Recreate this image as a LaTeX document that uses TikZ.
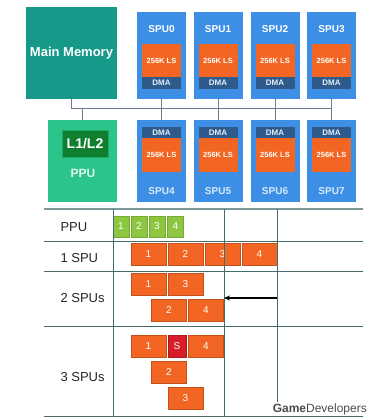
\documentclass[tikz,border=0pt]{standalone}
\usepackage{fontspec}
\setmainfont{Liberation Sans}
\usepackage{tikz}
\usetikzlibrary{arrows.meta}
\definecolor{memteal}{HTML}{17998A}
\definecolor{spublue}{HTML}{3D8FE6}
\definecolor{dmablue}{HTML}{2F5B8C}
\definecolor{lsorange}{HTML}{F26522}
\definecolor{ppugreen}{HTML}{2BC48A}
\definecolor{cachegreen}{HTML}{0E7F2E}
\definecolor{lime}{HTML}{8DC63F}
\definecolor{stallred}{HTML}{D71E28}
\definecolor{gridline}{HTML}{456B6B}
\definecolor{busline}{HTML}{6C7C8C}
\tikzset{box/.style = {inner sep=0pt, text=white}}
\tikzset{spu/.style = {box, fill=spublue, minimum width=49}}
\tikzset{spulabel/.style = {text=white, font=\bfseries\fontsize{10}{12}\selectfont}}
\tikzset{ls/.style = {box, fill=lsorange, minimum width=39, font=\bfseries\fontsize{7.5}{9}\selectfont}}
\tikzset{dma/.style = {box, fill=dmablue, minimum width=39, text=white!85!spublue, font=\bfseries\fontsize{8}{9}\selectfont}}
\tikzset{task/.style = {box, fill=lsorange, draw=lsorange!80!black, line width=0.5pt, minimum width=35, minimum height=22, font=\fontsize{10}{12}\selectfont}}
\tikzset{rowlabel/.style = {anchor=west, font=\fontsize{13}{15}\selectfont, text=black!85}}
\tikzset{bus/.style = {draw=busline, line width=0.8pt}}
\tikzset{grid/.style = {draw=gridline, line width=1pt}}

\begin{document}
\begin{tikzpicture}[x=1pt,y=-1pt]
\useasboundingbox (0,0) rectangle (369,420);
% chip layout
\node[box, fill=memteal, minimum width=91, minimum height=92, font=\bfseries\fontsize{13}{15}\selectfont] (mem) at (71.5,53) {Main Memory};
\foreach \i/\x in {0/161.5,1/218,2/275,3/331.5} {
  \node[spu, minimum height=87] (spu\i) at (\x,55.5) {};
  \node[spulabel] (lab\i) at (\x,29) {SPU\i};
  \node[ls, minimum height=33] (ls\i) at (\x,60.5) {256K LS};
  \node[dma, minimum height=12] (dma\i) at (\x,83) {DMA};
}
\foreach \i/\x in {4/161.5,5/218,6/275,7/331.5} {
  \node[spu, minimum height=82] (spu\i) at (\x,161) {};
  \node[dma, minimum height=11] (dma\i) at (\x,132.5) {DMA};
  \node[ls, minimum height=34] (ls\i) at (\x,155) {256K LS};
  \node[spulabel, text=white!80!spublue] (lab\i) at (\x,191) {SPU\i};
}
\node[box, fill=ppugreen, minimum width=69, minimum height=82] (ppu) at (82.5,161) {};
\node[box, fill=cachegreen, draw=ppugreen!60!cachegreen, minimum width=46, minimum height=27, font=\bfseries\fontsize{14}{16}\selectfont] (cache) at (85,143.5) {L1/L2};
\node[spulabel, font=\bfseries\fontsize{12}{14}\selectfont, text=white!85!ppugreen] (ppulab) at (83,173) {PPU};
%
\coordinate (bus) at (0,108.5);
\draw[bus] (mem.south) -- (mem.south |- bus) -- (spu3.south |- bus);
\foreach \i in {0,...,3} \draw[bus] (spu\i.south) -- (spu\i.south |- bus);
\foreach \i in {4,...,7} \draw[bus] (spu\i.north) -- (spu\i.north |- bus);
\draw[bus] (ppu.north) -- (ppu.north |- bus);
% schedule table
\node[rowlabel] (rppu) at (57,227) {PPU};
\node[rowlabel] (r1) at (57,258) {1 SPU};
\node[rowlabel] (r2) at (57,298) {2 SPUs};
\node[rowlabel] (r3) at (57,377) {3 SPUs};
\foreach \i/\x in {1/121,2/139,3/157,4/175.5}
  \node[task, fill=lime, draw=lime!85!black, minimum width=16, minimum height=21] (p\i) at (\x,226.5) {\i};
\foreach \i/\x in {1/148.5,2/185.5,3/222.5,4/259.5}
  \node[task] (a\i) at (\x,254) {\i};
\node[task] (b1) at (148.5,284.5) {1};
\node[task] (b3) at (185.5,284.5) {3};
\node[task] (b2) at (169,310) {2};
\node[task] (b4) at (206,310) {4};
\node[task] (c1) at (148.5,346.5) {1};
\node[task, fill=stallred, draw=stallred!80!black, minimum width=18] (cs) at (177,346.5) {S};
\node[task] (c4) at (206,346.5) {4};
\node[task] (c2) at (169,372) {2};
\node[task] (c3) at (185.5,398.5) {3};
%
\draw[grid, draw=gridline!70, line width=1.5pt] (44,209) -- (363,209);
\foreach \y in {241,271,326,416} \draw[grid] (44,\y) -- (363,\y);
\foreach \x in {113,224,277} \draw[grid] (\x,209) -- (\x,416);
\coordinate (from) at (277,298);
\coordinate (to) at (224,298);
\draw[line width=1.3pt, -{Stealth[length=6pt,width=5pt]}] (from) -- (to);
\node[anchor=east, fill=white, inner sep=1pt, font=\fontsize{12}{14}\selectfont, text=black!70] (logo) at (368,409) {\textbf{Game}Developers};
\end{tikzpicture}
\end{document}
